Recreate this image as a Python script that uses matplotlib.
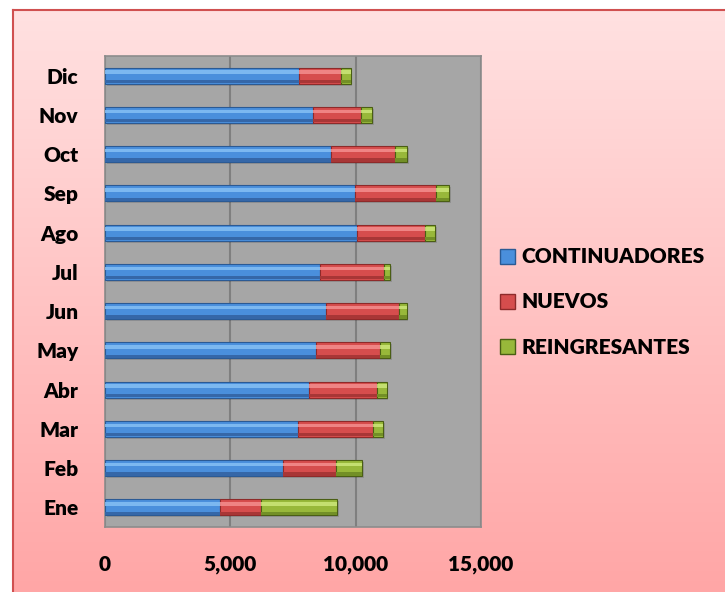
import matplotlib

matplotlib.use('agg')
import matplotlib.pyplot as plt
import numpy as np
from matplotlib.colors import LinearSegmentedColormap
from matplotlib.patches import Patch

meses = ['Ene', 'Feb', 'Mar', 'Abr', 'May', 'Jun',
         'Jul', 'Ago', 'Sep', 'Oct', 'Nov', 'Dic']
continuadores = [4570, 7090, 7690, 8130, 8410, 8810, 8570, 10040, 9970, 9000, 8290, 7730]
nuevos = [1670, 2120, 2990, 2710, 2550, 2920, 2560, 2730, 3230, 2570, 1910, 1690]
reingresantes = [3030, 1050, 430, 400, 410, 310, 240, 400, 530, 490, 470, 390]
series = ['CONTINUADORES', 'NUEVOS', 'REINGRESANTES']

# (mid, light, dark, edge)
colores = {
    'CONTINUADORES': ('#4a8fdc', '#86c0f4', '#3567a8', '#2b5a94'),
    'NUEVOS': ('#d64d4d', '#f48e8e', '#a83636', '#8e2a2a'),
    'REINGRESANTES': ('#98b83a', '#cde67a', '#728f26', '#4a5e14'),
}

plt.rcParams['font.family'] = ['Lato', 'DejaVu Sans']

fig = plt.figure(figsize=(7.25, 5.92), dpi=100)
fig.patch.set_facecolor('white')

# pink gradient frame
bg = fig.add_axes([13 / 725, 0, 1 - 13 / 725, 1 - 10 / 592], zorder=-10)
bg.imshow(np.linspace(0, 1, 256).reshape(-1, 1), aspect='auto', extent=[0, 1, 0, 1],
          cmap=LinearSegmentedColormap.from_list('pk', ['#ffe1e1', '#ffa6a6']))
bg.set_xlim(0, 1)
bg.set_ylim(0, 1)
bg.set_xticks([])
bg.set_yticks([])
for s in ['left', 'top']:
    bg.spines[s].set_color('#d05050')
    bg.spines[s].set_linewidth(1.5)
for s in ['right', 'bottom']:
    bg.spines[s].set_visible(False)

ax = fig.add_axes([105 / 725, 1 - 527 / 592, 376 / 725, 471 / 592])
ax.set_facecolor('#a6a6a6')

y = np.arange(len(meses))
h = 0.41
left = np.zeros(len(meses))
handles = []
for name, vals in zip(series, [continuadores, nuevos, reingresantes]):
    mid, light, dark, edge = colores[name]
    vals = np.array(vals)
    # soft shadow
    ax.barh(y - 0.05, vals, left=left + 60, height=h, color='black', alpha=0.12,
            linewidth=0, zorder=2)
    ax.barh(y, vals, left=left, height=h, color=mid, edgecolor=edge,
            linewidth=0.8, zorder=3)
    # bevel: light upper band and dark lower band
    ax.barh(y + 0.22 * h, vals, left=left, height=0.22 * h, color=light,
            alpha=0.85, linewidth=0, zorder=4)
    ax.barh(y - 0.37 * h, vals, left=left, height=0.2 * h, color=dark,
            linewidth=0, zorder=4)
    left = left + vals
    handles.append(Patch(facecolor=mid, edgecolor=edge, label=name))

ax.set_xlim(0, 15000)
ax.set_ylim(-0.5, len(meses) - 0.5)
ax.set_xticks([0, 5000, 10000, 15000])
ax.set_xticklabels(['0', '5,000', '10,000', '15,000'])
ax.set_yticks(y)
ax.set_yticklabels(meses)
ax.tick_params(axis='both', length=0, labelsize=15)
ax.tick_params(axis='y', pad=19)
ax.tick_params(axis='x', pad=20)
for lab in ax.get_xticklabels() + ax.get_yticklabels():
    lab.set_fontweight('heavy')
ax.grid(axis='x', color='#7f7f7f', linewidth=1.5, zorder=1)
ax.set_axisbelow(True)
for s in ax.spines.values():
    s.set_color('#8c8c8c')
    s.set_linewidth(1.2)

fig.legend(handles=handles, loc='center left', bbox_to_anchor=(481 / 725, 1 - 302 / 592),
           frameon=False, handlelength=0.75, handleheight=0.75,
           handletextpad=0.3, labelspacing=1.25,
           prop={'size': 15, 'weight': 'heavy', 'family': ['Lato', 'DejaVu Sans']})

fig.savefig('out.png', dpi=100)
